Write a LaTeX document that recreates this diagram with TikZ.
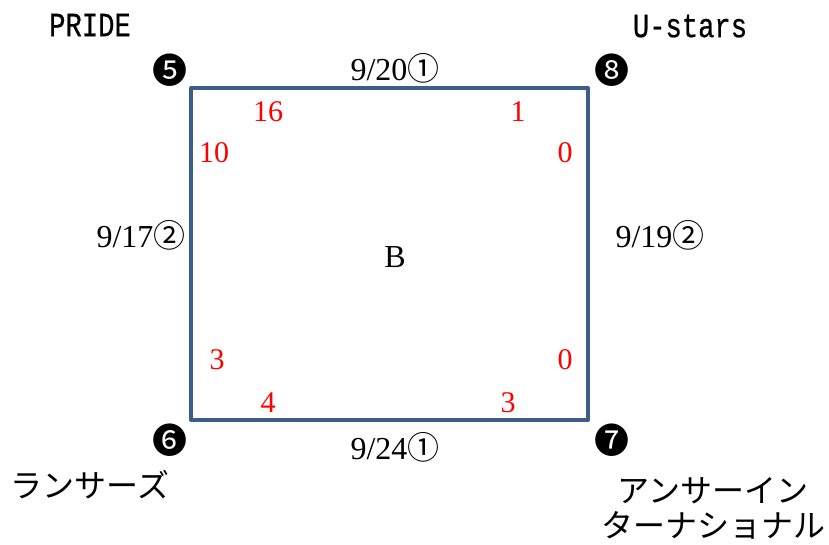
\documentclass[tikz,border=0pt]{standalone}
\usepackage{fontspec}
\setmainfont{Liberation Serif}
\newfontfamily\jpfont{Noto Sans CJK JP}
\newfontfamily\monofont[FakeStretch=0.8,FakeBold=0.6]{Liberation Mono}
\definecolor{boxblue}{HTML}{3E5D8A}

\begin{document}
\begin{tikzpicture}[x=1pt,y=-1pt,
		score/.style={text=red,font=\fontsize{30}{30}\selectfont},
		datelab/.style={font=\fontsize{32}{32}\selectfont},
		team/.style={font=\monofont\fontsize{34}{34}\selectfont},
		teamjp/.style={font=\jpfont\fontsize{32}{35}\selectfont,align=center},
		roundmark/.style={font=\jpfont\fontsize{35}{35}\selectfont}]
	\useasboundingbox (0,0) rectangle (829,545);
	
	\draw[boxblue,line width=4pt,line join=round] (191,88) rectangle (588,420);
	
	\node[team] (pride) at (90,25) {PRIDE};
	\node[team] (ustars) at (690,26) {U-stars};
	\node[teamjp] (lancers) at (90,485) {ランサーズ};
	\node[teamjp] (answer) at (713,508) {アンサーイン\\ターナショナル};
	
	\node[roundmark] (m5) at (170,70) {❺};
	\node[roundmark] (m8) at (612,70) {❽};
	\node[roundmark] (m6) at (170,440) {❻};
	\node[roundmark] (m7) at (612,440) {❼};
	
	\node[datelab] (top) at (395,68) {9/20{\jpfont ①}};
	\node[datelab] (bottom) at (395,447) {9/24{\jpfont ①}};
	\node[datelab] (left) at (141,235) {9/17{\jpfont ②}};
	\node[datelab] (right) at (660,235) {9/19{\jpfont ②}};
	
	\node[datelab] (center) at (395,257) {B};
	
	\node[score] (s16) at (268,112) {16};
	\node[score] (s1) at (518,112) {1};
	\node[score] (s10) at (214,153) {10};
	\node[score] (s0a) at (565,153) {0};
	\node[score] (s3a) at (217,360) {3};
	\node[score] (s0b) at (565,360) {0};
	\node[score] (s4) at (268,403) {4};
	\node[score] (s3b) at (508,403) {3};
\end{tikzpicture}
\end{document}
